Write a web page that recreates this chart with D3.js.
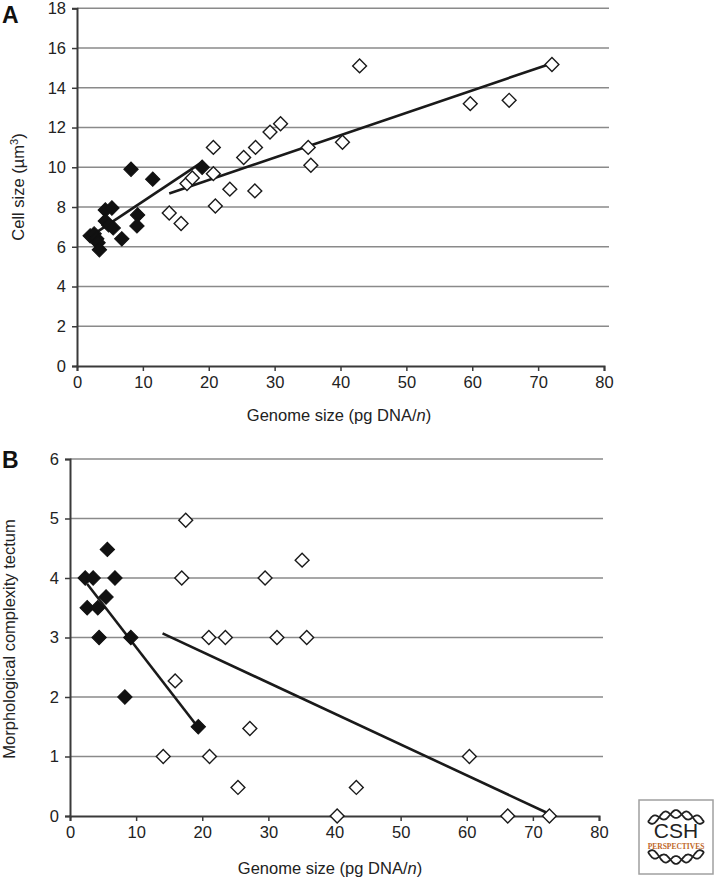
<!DOCTYPE html>
<html><head><meta charset="utf-8">
<script src="https://cdn.jsdelivr.net/npm/d3@7"></script>
<style>body{margin:0;background:#fff}svg{display:block;font-family:"Liberation Sans",Arial,sans-serif}</style>
</head><body><svg id="c" width="716" height="878"></svg>
<script>
// ---- Data ----
const xTicks = [0,10,20,30,40,50,60,70,80];
const aYTicks = [0,2,4,6,8,10,12,14,16,18];
const bYTicks = [0,1,2,3,4,5,6];

// Panel A: genome size (pg DNA/n) vs cell size (µm³)
const aFilled = [[2.0,6.55],[2.6,6.65],[3.0,6.4],[3.2,6.2],[3.4,5.85],[4.3,7.85],[5.3,7.95],[4.3,7.3],[4.8,7.1],[5.5,6.95],[6.8,6.4],[8.2,9.9],[9.2,7.6],[9.1,7.05],[11.5,9.4],[19.0,10.0]];
const aOpen = [[14.0,7.7],[15.8,7.17],[16.7,9.18],[17.5,9.46],[20.7,9.68],[21.0,8.05],[23.2,8.9],[25.3,10.49],[27.0,8.81],[35.5,10.1],[20.7,11.0],[27.1,11.0],[29.3,11.77],[30.9,12.19],[35.1,11.0],[40.3,11.26],[42.9,15.1],[59.7,13.2],[65.6,13.37],[72.1,15.17]];
const aFilledFit = [[2.6,6.65],[18.7,10.2]];
const aOpenFit = [[14.0,8.68],[71.8,15.2]];

// Panel B: genome size vs morphological complexity tectum
const bFilled = [[2.3,4.0],[3.5,4.0],[2.6,3.5],[4.2,3.5],[5.45,3.68],[5.65,4.48],[6.8,4.0],[4.4,3.0],[9.2,3.0],[8.3,2.0],[19.4,1.5]];
const bOpen = [[17.5,4.97],[16.9,4.0],[29.5,4.0],[35.1,4.3],[21.0,3.0],[23.5,3.0],[31.3,3.0],[35.8,3.0],[15.9,2.27],[27.2,1.47],[14.1,1.0],[21.1,1.0],[25.4,0.48],[40.4,0.0],[43.3,0.48],[60.4,1.0],[66.2,0.0],[72.5,0.0]];
const bFilledFit = [[2.6,3.9],[19.3,1.5]];
const bOpenFit = [[14.0,3.07],[72.6,0.03]];

const svg = d3.select("#c");
const FONT = "Liberation Sans, Arial, sans-serif";

function panel(cfg){
  const x = d3.scaleLinear().domain([0,80]).range(cfg.xr);
  const y = d3.scaleLinear().domain(cfg.yd).range(cfg.yr);
  const g = svg.append("g");
  // gridlines
  g.selectAll(".grid").data(cfg.yTicks.filter(d=>d!==0)).join("line")
    .attr("x1", cfg.xr[0]).attr("x2", cfg.gridEnd)
    .attr("y1", d=>y(d)).attr("y2", d=>y(d))
    .attr("stroke","#8a8a8a").attr("stroke-width",1.6);
  // y axis
  const ya = d3.axisLeft(y).tickValues(cfg.yTicks).tickFormat(d3.format("d")).tickSize(5).tickPadding(6);
  const yg = g.append("g").attr("transform",`translate(${cfg.xr[0]},0)`).call(ya);
  yg.select(".domain").attr("stroke","#3a3a3a").attr("stroke-width",2);
  yg.selectAll(".tick line").attr("stroke","#3a3a3a").attr("stroke-width",1.5);
  yg.selectAll("text").attr("font-size",16.5).attr("fill","#222").attr("font-family",FONT);
  // x axis
  const xa = d3.axisBottom(x).tickValues(xTicks).tickFormat(d3.format("d")).tickSize(5).tickPadding(5);
  const xg = g.append("g").attr("transform",`translate(0,${cfg.yr[0]})`).call(xa);
  xg.select(".domain").attr("stroke","#3a3a3a").attr("stroke-width",2);
  xg.selectAll(".tick line").attr("stroke","#3a3a3a").attr("stroke-width",1.5);
  xg.selectAll("text").attr("font-size",16.5).attr("fill","#222").attr("font-family",FONT);
  // fit lines
  const line = d3.line().x(d=>x(d[0])).y(d=>y(d[1]));
  [cfg.filledFit, cfg.openFit].forEach(f=>{
    g.append("path").attr("d", line(f)).attr("fill","none").attr("stroke","#1a1a1a").attr("stroke-width",2.6);
  });
  // diamonds
  const sym = d3.symbol().type(d3.symbolSquare);
  g.selectAll(".open").data(cfg.open).join("path")
    .attr("d", sym.size(96)())
    .attr("transform", d=>`translate(${x(d[0])},${y(d[1])}) rotate(45)`)
    .attr("fill","#fff").attr("stroke","#1a1a1a").attr("stroke-width",1.4);
  g.selectAll(".filled").data(cfg.filled).join("path")
    .attr("d", sym.size(104)())
    .attr("transform", d=>`translate(${x(d[0])},${y(d[1])}) rotate(45)`)
    .attr("fill","#111").attr("stroke","#111").attr("stroke-width",1);
  // titles
  g.append("text").attr("x", cfg.xTitle[0]).attr("y", cfg.xTitle[1]).attr("text-anchor","middle")
    .attr("font-size",16.5).attr("fill","#222")
    .call(t=>{t.append("tspan").text("Genome size (pg DNA/");t.append("tspan").attr("font-style","italic").text("n");t.append("tspan").text(")");});
  const yt = g.append("text").attr("transform",`translate(${cfg.yTitle[0]},${cfg.yTitle[1]}) rotate(-90)`)
    .attr("text-anchor","middle").attr("font-size",16.5).attr("fill","#222");
  cfg.yTitleFn(yt);
  g.append("text").attr("x",2).attr("y",cfg.letterY).attr("font-size",23).attr("font-weight","bold").attr("fill","#111").text(cfg.letter);
}

panel({xr:[77,604], gridEnd:609, yd:[0,18], yr:[366,8.3], yTicks:aYTicks,
  filled:aFilled, open:aOpen, filledFit:aFilledFit, openFit:aOpenFit,
  xTitle:[339,421], yTitle:[24,187], letter:"A", letterY:23,
  yTitleFn:t=>{t.append("tspan").text("Cell size (µm");t.append("tspan").attr("dy",-6).attr("font-size",11).text("3");t.append("tspan").attr("dy",6).text(")");}});

panel({xr:[70,599], gridEnd:603, yd:[0,6], yr:[816,459], yTicks:bYTicks,
  filled:bFilled, open:bOpen, filledFit:bFilledFit, openFit:bOpenFit,
  xTitle:[330,874], yTitle:[15,639], letter:"B", letterY:468,
  yTitleFn:t=>t.text("Morphological complexity tectum")});

// logo
const lg = svg.append("g");
lg.append("rect").attr("x",639).attr("y",800).attr("width",74).attr("height",74).attr("fill","#fff").attr("stroke","#a0a0a0").attr("stroke-width",1.5);
function helixPath(dir, phase){
  const pts = d3.range(0,61).map(i=>{
    const t=i/60, xx=648+t*56;
    const base = dir<0 ? 822 - 8*Math.sin(t*Math.PI) : 852 + 8*Math.sin(t*Math.PI);
    return [xx, base + 4*Math.sin(t*Math.PI*5+phase)];
  });
  return d3.line().curve(d3.curveBasis)(pts);
}
[[-1,0],[-1,Math.PI],[1,0],[1,Math.PI]].forEach(h=>{
  lg.append("path").attr("d",helixPath(h[0],h[1])).attr("fill","none").attr("stroke","#222").attr("stroke-width",1.8);
});
lg.append("text").attr("x",676).attr("y",838).attr("text-anchor","middle").attr("font-size",21).attr("fill","#222").attr("font-family",FONT).text("CSH");
lg.append("text").attr("x",676).attr("y",849).attr("text-anchor","middle").attr("font-size",7.5).attr("font-weight","bold").attr("fill","#c0661f").attr("font-family","Liberation Serif, serif").text("PERSPECTIVES");
</script></body></html>
